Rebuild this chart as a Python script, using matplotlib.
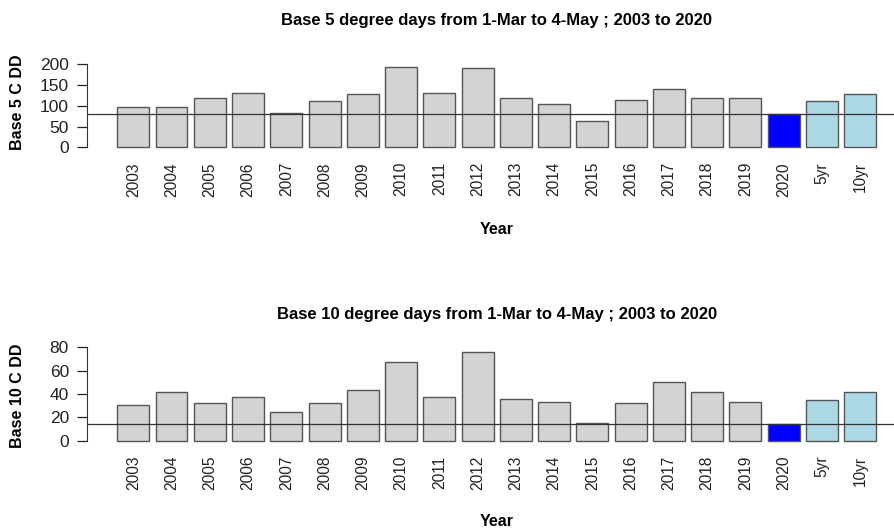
import matplotlib
matplotlib.use("Agg")
import matplotlib.pyplot as plt
import numpy as np

plt.rcParams["font.family"] = ["Liberation Sans", "DejaVu Sans"]

labels = ["2003", "2004", "2005", "2006", "2007", "2008", "2009", "2010", "2011",
          "2012", "2013", "2014", "2015", "2016", "2017", "2018", "2019", "2020",
          "5yr", "10yr"]
dd5 = [98, 96, 118, 131, 82, 112, 129, 194, 131, 190, 118, 105, 63, 115, 140,
       119, 119, 81, 112, 128]
dd10 = [30.5, 41.5, 32.5, 37, 24.5, 32.5, 43.5, 67.5, 37, 75.5, 35.5, 33, 15,
        32.5, 50, 41.5, 33.5, 14.5, 34.5, 41.5]
title5 = "Base 5 degree days from 1-Mar to 4-May ; 2003 to 2020"
title10 = "Base 10 degree days from 1-Mar to 4-May ; 2003 to 2020"

colors = ["#D3D3D3"] * 17 + ["#0000FF", "#ADD8E6", "#ADD8E6"]

W, H = 894, 529
fig = plt.figure(figsize=(W / 100, H / 100), dpi=100)


def px_axes(left, top, right, bottom):
    return fig.add_axes([left / W, 1 - bottom / H, (right - left) / W, (bottom - top) / H])


def panel(ax, vals, ylim, yticks, ylab, title, title_y, xlab_y):
    x = np.arange(len(vals))
    ax.bar(x, vals, width=1 / 1.2, color=colors, edgecolor="#555555", linewidth=1.0)
    ax.axhline(vals[17], color="#333333", lw=0.9)
    ax.set_xlim(-1.21, len(vals) - 1 + 1.21)
    ax.set_ylim(*ylim)
    for s in ("top", "right", "bottom"):
        ax.spines[s].set_visible(False)
    ax.spines["left"].set_bounds(yticks[0], yticks[-1])
    ax.spines["left"].set_color("#333333")
    ax.set_yticks(yticks)
    ax.tick_params(axis="y", length=7, width=0.9, pad=6, labelsize=12.5, colors="#222222")
    ax.set_xticks(x)
    ax.set_xticklabels(labels, rotation=90, fontsize=11.2, color="#222222")
    ax.tick_params(axis="x", length=0, pad=8)
    ax.set_ylabel(ylab, fontsize=11.5, fontweight="bold", va="center")
    ax.yaxis.set_label_coords((18 - 87) / 819.5, 0.48)
    fig.text(497 / W, 1 - title_y / H, title, ha="center", va="center",
             fontsize=12, fontweight="bold")
    fig.text(497 / W, 1 - xlab_y / H, "Year", ha="center", va="center",
             fontsize=11.5, fontweight="bold")


ax1 = px_axes(87, 50.2, 906.5, 151.0)
panel(ax1, dd5, (-9, 234), [0, 50, 100, 150, 200], "Base 5 C DD", title5, 20, 229)

ax2 = px_axes(87, 343.5, 906.5, 444.4)
panel(ax2, dd10, (-3.2, 83.2), [0, 20, 40, 60, 80], "Base 10 C DD", title10, 315, 521)

fig.savefig("out.png", dpi=100)
